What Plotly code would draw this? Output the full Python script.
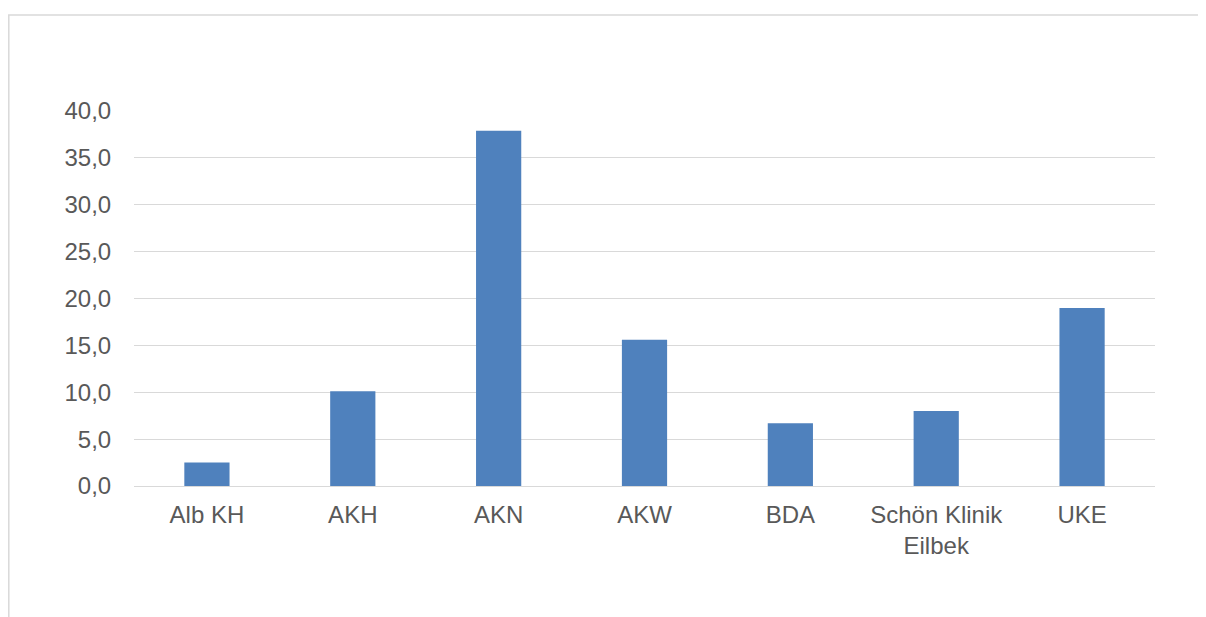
import plotly.graph_objects as go

categories = ["Alb KH", "AKH", "AKN", "AKW", "BDA", "Schön Klinik<br>Eilbek", "UKE"]
values = [2.5, 10.1, 37.9, 15.6, 6.7, 8.0, 19.0]
y_ticks = [0, 5, 10, 15, 20, 25, 30, 35, 40]

fig = go.Figure(go.Bar(
    x=categories, y=values,
    marker=dict(color="#4F81BD", line=dict(width=0)),
    hoverinfo="skip",
))

# page body adds an 8px offset; positions below are in figure pixels
W, H = 1206, 617
L, R, T, B = 126, 59, 103, 139
pw, ph = W - L - R, H - T - B

def px_x(p):
    return (p - L) / pw

def px_y(p):
    return (H - B - p) / ph

fig.update_layout(
    width=W, height=H,
    margin=dict(l=L, r=R, t=T, b=B),
    paper_bgcolor="white", plot_bgcolor="white",
    separators=",.",
    bargap=0.69,
    showlegend=False,
    font=dict(family="Liberation Sans, Arial, sans-serif", size=24, color="#595959"),
    xaxis=dict(
        showgrid=False, zeroline=False, showline=False,
        ticks="outside", ticklen=7, tickcolor="rgba(0,0,0,0)",
        tickfont=dict(size=24, color="#595959"),
    ),
    yaxis=dict(
        range=[0, 40], tickvals=y_ticks, tickformat=".1f",
        showgrid=True, gridcolor="#D9D9D9", gridwidth=1.3,
        zeroline=True, zerolinecolor="#D9D9D9", zerolinewidth=1.3,
        showline=False,
        ticks="outside", ticklen=17, tickcolor="rgba(0,0,0,0)",
        tickfont=dict(size=24, color="#595959"),
    ),
    shapes=[dict(
        type="rect", xref="paper", yref="paper",
        x0=px_x(0.8), x1=px_x(1230), y0=px_y(7), y1=px_y(640),
        line=dict(color="#D9D9D9", width=1.5), fillcolor="rgba(0,0,0,0)",
        layer="below",
    )],
)

fig.write_html("out.html")
